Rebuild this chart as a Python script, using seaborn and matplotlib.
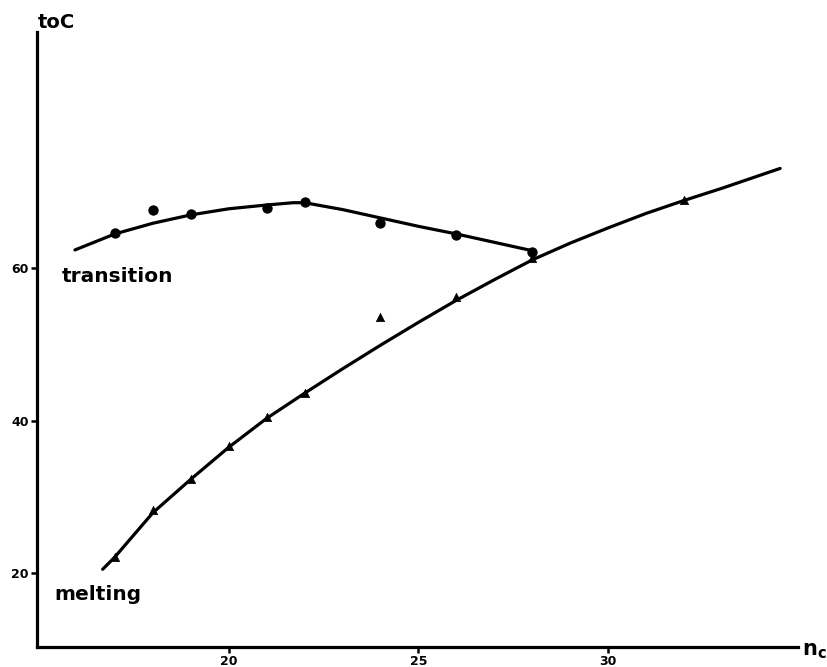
import matplotlib
matplotlib.use("Agg")
import matplotlib.pyplot as plt
import seaborn as sns

# Measured points: transition and melting temperatures (deg C) vs carbon number
trans_n = [17, 18, 19, 21, 22, 24, 26, 28]
trans_t = [64.6, 67.6, 67.1, 67.9, 68.7, 65.9, 64.3, 62.1]

melt_n = [17, 18, 19, 20, 21, 22, 24, 26, 28, 32]
melt_t = [22.1, 28.3, 32.3, 36.7, 40.5, 43.6, 53.6, 56.2, 61.3, 68.9]

# Smoothed curves drawn through the data
trans_curve_n = [15.95, 17, 18, 19, 20, 21, 21.7, 22, 23, 24, 25, 26, 27, 28]
trans_curve_t = [62.4, 64.5, 65.9, 67.0, 67.8, 68.3, 68.6, 68.6, 67.7, 66.6, 65.5, 64.5, 63.4, 62.3]

melt_curve_n = [16.68, 17, 18, 19, 20, 21, 22, 23, 24, 25, 26, 27, 28, 29, 30, 31, 32, 33, 34, 34.53]
melt_curve_t = [20.5, 22.1, 27.9, 32.3, 36.5, 40.3, 43.6, 46.8, 49.9, 52.9, 55.8, 58.5, 61.1, 63.3,
                65.3, 67.2, 68.9, 70.5, 72.2, 73.1]

x_ticks = [20, 25, 30]
y_ticks = [20, 40, 60]

sns.set_style("ticks")
plt.rcParams["font.family"] = ["DejaVu Sans"]
plt.rcParams["text.color"] = "black"
plt.rcParams["xtick.color"] = "black"
plt.rcParams["ytick.color"] = "black"
plt.rcParams["xtick.labelcolor"] = "black"
plt.rcParams["ytick.labelcolor"] = "black"

W, H = 827, 667
fig = plt.figure(figsize=(W / 100, H / 100), dpi=100)
ax = fig.add_axes([37 / W, 20 / H, (798 - 37) / W, (647 - 32) / H])

lw = 2.3
sns.lineplot(x=trans_curve_n, y=trans_curve_t, sort=False, color="black", lw=lw, ax=ax)
sns.lineplot(x=melt_curve_n, y=melt_curve_t, sort=False, color="black", lw=lw, ax=ax)
sns.scatterplot(x=trans_n, y=trans_t, marker="o", s=44, color="black", edgecolor="black",
                linewidth=0.8, ax=ax, zorder=3)
sns.scatterplot(x=melt_n, y=melt_t, marker="^", s=36, color="black", edgecolor="black",
                linewidth=0.5, ax=ax, zorder=3)

ax.set_xlim(14.95, 35.0)
ax.set_ylim(10.3, 91.0)
ax.set_xticks(x_ticks)
ax.set_yticks(y_ticks)
ax.set_xticklabels([str(v) for v in x_ticks], fontsize=9, fontweight="bold")
ax.set_yticklabels([str(v) for v in y_ticks], fontsize=9, fontweight="bold")
ax.tick_params(axis="both", length=4, width=1.8, pad=2, color="black")

sns.despine(ax=ax)
for side in ("left", "bottom"):
    ax.spines[side].set_linewidth(2.3)
    ax.spines[side].set_color("black")
ax.set_xlabel("")
ax.set_ylabel("")

# Curve labels
ax.text(15.6, 58.2, "transition", fontsize=14.5, fontweight="bold", color="black",
        ha="left", va="baseline")
ax.text(15.42, 16.5, "melting", fontsize=14.5, fontweight="bold", color="black",
        ha="left", va="baseline")

# Axis titles at the ends of the axes
fig.text(38 / W, 1 - 28 / H, "toC", fontsize=14, fontweight="bold", color="black",
         ha="left", va="baseline")
fig.text(802 / W, 1 - 655 / H, r"$\mathbf{n_c}$", fontsize=15, color="black",
         ha="left", va="baseline")

fig.savefig("out.png", dpi=100)
